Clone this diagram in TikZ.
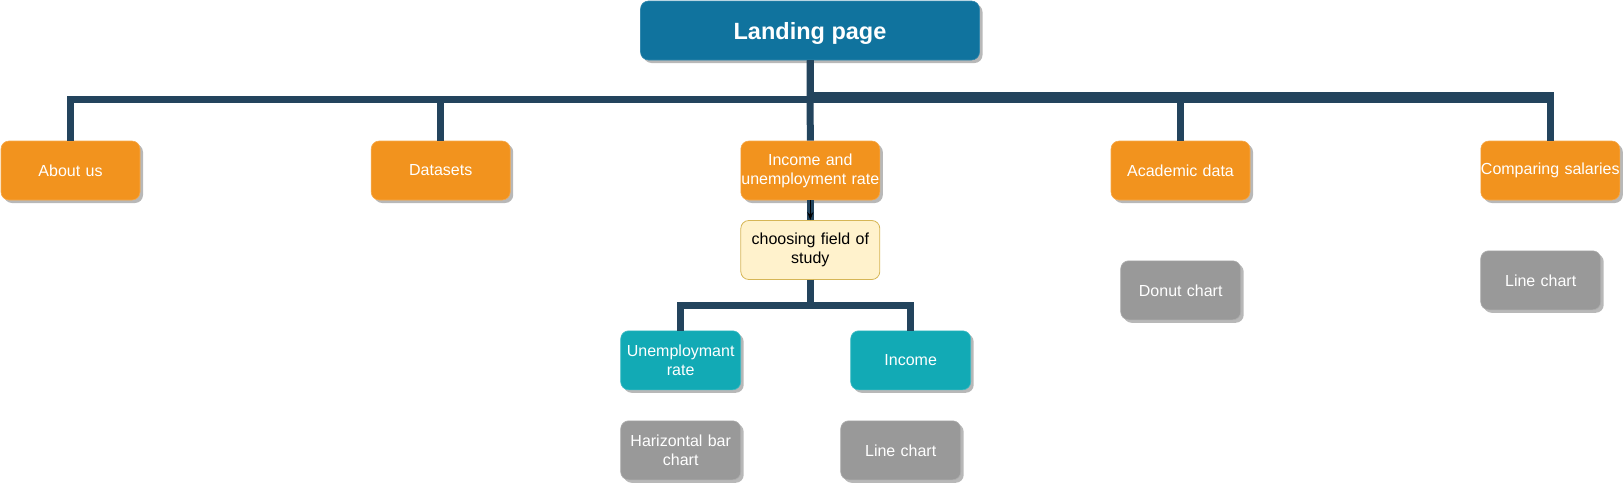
\documentclass[tikz,border=0pt]{standalone}
\usepackage{fontspec}
\setmainfont{Liberation Sans}
\usetikzlibrary{shadows,arrows.meta}
\definecolor{landc}{HTML}{10739E}
\definecolor{orangec}{HTML}{F2931E}
\definecolor{tealc}{HTML}{12AAB5}
\definecolor{grayc}{HTML}{999999}
\definecolor{busc}{HTML}{23445D}
\definecolor{yelf}{HTML}{FFF2CC}
\definecolor{yeld}{HTML}{D6B656}
\tikzset{
  boxbase/.style={rectangle, rounded corners=8pt, inner sep=0pt, align=center,
    font=\fontsize{16}{19}\selectfont,
    drop shadow={shadow xshift=3pt, shadow yshift=-3pt, fill=black!28, opacity=1}},
  orangebox/.style={boxbase, fill=orangec, draw=orangec!80!white, line width=0.6pt, text=white,
    minimum width=139pt, minimum height=59pt, text width=139pt},
  tealbox/.style={boxbase, fill=tealc, draw=tealc!80!white, line width=0.6pt, text=white,
    minimum width=120pt, minimum height=59pt, text width=120pt},
  graybox/.style={boxbase, fill=grayc, draw=grayc!80!white, line width=0.6pt, text=white,
    minimum width=120pt, minimum height=59pt, text width=120pt},
  yelbox/.style={rectangle, rounded corners=8pt, inner sep=0pt, align=center,
    font=\fontsize{16}{19}\selectfont, fill=yelf, draw=yeld, line width=0.8pt, text=black,
    minimum width=139pt, minimum height=59pt, text width=139pt},
  landbox/.style={boxbase, fill=landc, draw=landc!85!white, line width=0.6pt, text=white,
    font=\fontsize{23.5}{28}\selectfont\bfseries, text depth=0pt,
    minimum width=339pt, minimum height=59pt},
  bus/.style={draw=busc, line width=7pt},
}
\begin{document}
\begin{tikzpicture}[x=1pt,y=-1pt]
\useasboundingbox (0,0) rectangle (1623,485);
% nodes
\node[landbox] (land) at (810,30.5) {Landing page};
\node[orangebox] (about) at (70.5,170.5) {About us};
\node[orangebox] (data) at (440.7,170.5) {Datasets};
\node[orangebox] (inc) at (810.3,170.5) {Income and\\unemployment rate};
\node[orangebox] (acad) at (1180.5,170.5) {Academic data};
\node[orangebox] (comp) at (1550.3,170.5) {Comparing salaries};
\node[yelbox] (choose) at (810.3,250) {choosing field of\\study};
\node[tealbox] (unemp) at (680.7,360.3) {Unemploymant\\rate};
\node[tealbox] (income) at (910.7,360.3) {Income};
\node[graybox] (hbar) at (680.7,450.3) {Harizontal bar\\chart};
\node[graybox] (line1) at (900.7,450.3) {Line chart};
\node[graybox] (donut) at (1180.7,290.3) {Donut chart};
\node[graybox] (line2) at (1540.7,280.3) {Line chart};
% bus connectors
\coordinate (busy) at (0,99.5);
\coordinate (busyr) at (0,95.5);
\coordinate (suby) at (0,305.5);
\draw[bus] (land.south) |- (busyr -| comp.north) -- (comp.north);
\draw[bus] (land.south) |- (busy -| comp.north) -- (comp.north);
\draw[bus] (land.south) |- (busy -| about.north) -- (about.north);
\draw[bus] (land.south) |- (busy -| data.north) -- (data.north);
\draw[bus] (land.south) -- (inc.north);
\draw[bus] (land.south) |- (busy -| acad.north) -- (acad.north);
\draw[bus] (inc.south) -- (choose.north);
\draw[black, line width=1.4pt, -{Stealth[length=8pt,width=6pt]}] (inc.south) -- (choose.north);
\draw[bus] (choose.south) |- (suby -| unemp.north) -- (unemp.north);
\draw[bus] (choose.south) |- (suby -| income.north) -- (income.north);
\end{tikzpicture}
\end{document}
